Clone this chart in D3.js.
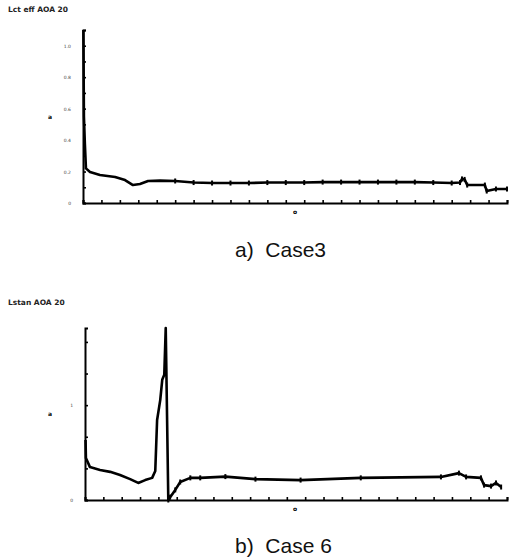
<!DOCTYPE html>
<html><head><meta charset="utf-8">
<script src="https://cdn.jsdelivr.net/npm/d3@7"></script>
<style>body{margin:0;background:#fff}svg{display:block}</style>
</head><body>
<svg id="c" width="514" height="557"></svg>
<script>
// ---- data ----
const titleA = "Lct eff AOA 20";
const titleB = "Lstan AOA 20";
const captionA = "a)  Case3";
const captionB = "b)  Case 6";
const yTickLabelsA = ["0", "0.2", "0.4", "0.6", "0.8", "1.0"];
const yTickLabelsB = ["0", "1"];
// Case 3 curve
const xA = [0.02,0.05,0.1,0.16,0.38,0.92,1.74,2.28,2.71,3.09,3.53,4.18,5,6,7,8,9,10,11,12,13,14,15,16,17,18,19,20,20.45,20.56,20.7,20.84,21.8,21.9,22.4,23];
const yA = [11,5.5,3.8,2.2,1.97,1.78,1.65,1.46,1.14,1.21,1.40,1.42,1.40,1.30,1.27,1.27,1.27,1.30,1.30,1.30,1.33,1.33,1.33,1.33,1.33,1.33,1.30,1.27,1.30,1.53,1.50,1.14,1.14,0.76,0.89,0.89];
// Case 6 curve
const xB = [0.03,0.05,0.27,0.82,1.37,1.91,2.46,2.90,3.28,3.66,3.83,3.93,4.10,4.21,4.32,4.40,4.54,4.64,4.92,5.19,5.74,6.28,7.65,9.29,11.75,15.03,19.40,20.38,20.77,21.58,21.75,22.13,22.40,22.68];
const yB = [1.90,1.33,1.04,0.95,0.89,0.79,0.66,0.54,0.63,0.70,0.92,2.53,3.16,3.80,3.96,5.44,0.0,0.09,0.32,0.57,0.70,0.70,0.74,0.66,0.63,0.70,0.73,0.85,0.73,0.70,0.47,0.44,0.54,0.41];

const svg = d3.select("#c");

function panel(o) {
  const g = svg.append("g");
  const x = d3.scaleLinear().domain([0, 23]).range([o.x0, 507]);
  const y = d3.scaleLinear().domain([0, o.ymax]).range([o.y0, o.y1]);
  // axes
  const xa = g.append("g").attr("transform", `translate(0,${o.y0})`)
    .call(d3.axisTop(x).ticks(23).tickValues(d3.range(0, 24)).tickSize(3).tickFormat(""));
  const ya = g.append("g").attr("transform", `translate(${o.x0},0)`)
    .call(d3.axisRight(y).tickValues(d3.range(0, Math.floor(o.ymax) + 1, 1)).tickSize(3).tickFormat(""));
  [xa, ya].forEach(a => {
    a.select(".domain").attr("stroke", "#000").attr("stroke-width", 2);
    a.selectAll(".tick line").attr("stroke", "#000").attr("stroke-width", 1.6);
  });
  // tiny y tick labels
  g.selectAll(".yl").data(o.ylabels).join("text")
    .attr("x", o.x0 - 12).attr("y", (d, i) => y(i * o.lstep) + 2)
    .attr("text-anchor", "end").attr("font-size", 4.5)
    .attr("font-family", "DejaVu Sans").attr("fill", "#444").text(d => d);
  // axis letters
  g.append("text").attr("x", 48).attr("y", y(o.ymax * 0.5) + 2)
    .attr("font-size", 6).attr("font-weight", "bold").attr("font-family", "DejaVu Sans").text("a");
  g.append("text").attr("x", 293).attr("y", o.y0 + 11)
    .attr("font-size", 6).attr("font-weight", "bold").attr("font-family", "DejaVu Sans").text("o");
  // title
  g.append("text").attr("x", 8).attr("y", o.ty).attr("font-size", 7.5)
    .attr("font-weight", "bold").attr("font-family", "DejaVu Sans").attr("fill", "#222").text(o.title);
  // curve
  const pts = o.xs.map((d, i) => [d, o.ys[i]]);
  g.append("path").datum(pts)
    .attr("d", d3.line().x(d => x(d[0])).y(d => y(d[1])))
    .attr("fill", "none").attr("stroke", "#000").attr("stroke-width", 2.6)
    .attr("stroke-linejoin", "round");
  g.selectAll(".mk").data(pts.filter(d => d[0] > 4.5)).join("rect")
    .attr("x", d => x(d[0]) - 1).attr("y", d => y(d[1]) - 2.5)
    .attr("width", 2).attr("height", 5).attr("fill", "#000");
  // caption
  svg.append("text").attr("x", 235).attr("y", o.cy)
    .attr("font-size", 21).attr("font-family", "Liberation Sans")
    .style("white-space", "pre").attr("fill", "#111").text(o.caption);
}

panel({x0: 83, y0: 203, y1: 30, ymax: 11, lstep: 2, ylabels: yTickLabelsA,
       title: titleA, ty: 12, xs: xA, ys: yA, caption: captionA, cy: 257});
panel({x0: 85, y0: 500, y1: 328, ymax: 5.44, lstep: 3, ylabels: yTickLabelsB,
       title: titleB, ty: 305, xs: xB, ys: yB, caption: captionB, cy: 553});
</script>
</body></html>
